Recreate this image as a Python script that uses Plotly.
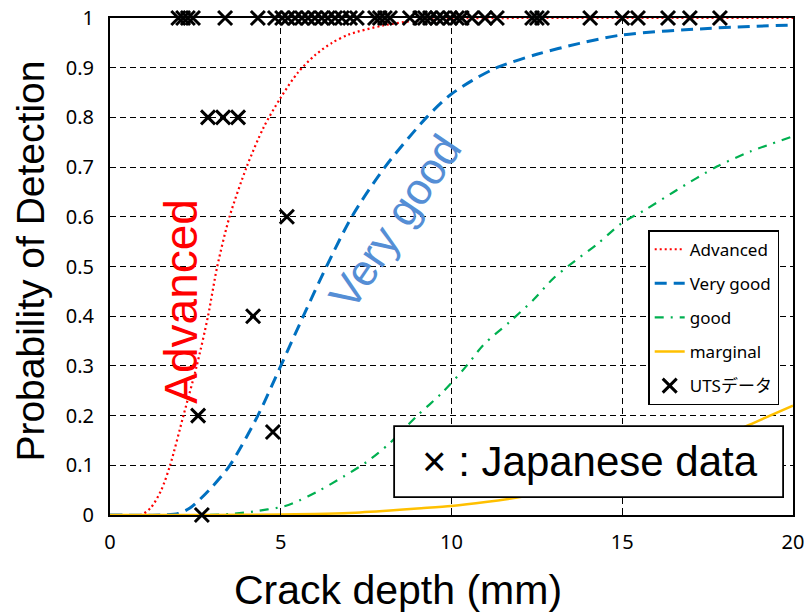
import plotly.graph_objects as go

# ---- data ----
adv_x = [0, 0.9, 1.2, 1.5, 1.76, 2.15, 2.54, 2.87, 3.14, 3.5, 4.0, 4.5, 5.0, 5.5, 6.0, 6.5, 7.0, 8.0, 9.0, 10.0, 12.0, 20.0]
adv_y = [0, 0, 0.015, 0.05, 0.1, 0.2, 0.3, 0.4, 0.5, 0.6, 0.7, 0.78, 0.84, 0.89, 0.925, 0.95, 0.967, 0.985, 0.995, 0.999, 1.0, 1.0]

vg_x = [0, 1.5, 2.0, 2.34, 2.9, 3.51, 4.33, 5.0, 5.66, 6.34, 7.08, 8.05, 9.27, 9.96, 10.6, 11.32, 12.5, 13.75, 15.0, 17.5, 20.0]
vg_y = [0, 0, 0.003, 0.014, 0.05, 0.1, 0.2, 0.3, 0.4, 0.5, 0.6, 0.7, 0.8, 0.845, 0.874, 0.9, 0.927, 0.949, 0.966, 0.979, 0.986]

good_x = [0, 2.5, 3.5, 4.2, 5.07, 5.37, 6.15, 6.83, 7.52, 8.2, 9.0, 9.71, 10.44, 10.93, 11.71, 12.4, 12.98, 13.42, 14.3, 14.98, 15.67, 16.6, 17.77, 18.74, 20.0]
good_y = [0, 0, 0.002, 0.007, 0.017, 0.024, 0.05, 0.077, 0.107, 0.145, 0.2, 0.245, 0.3, 0.342, 0.389, 0.433, 0.476, 0.501, 0.547, 0.587, 0.614, 0.654, 0.701, 0.731, 0.762]

marg_x = [0, 3, 5, 6, 7, 8.2, 9, 10, 11, 12.1, 13, 14, 15, 16, 17, 18, 19, 20]
marg_y = [0, 0, 0.001, 0.002, 0.004, 0.009, 0.013, 0.018, 0.026, 0.037, 0.048, 0.065, 0.085, 0.108, 0.133, 0.16, 0.19, 0.22]

uts_top_x = [2.0, 2.14, 2.28, 2.43, 3.37, 4.33, 4.83, 5.04, 5.21, 5.42, 5.62, 5.8, 6.0, 6.2, 6.38, 6.59,
             6.79, 7.03, 7.23, 7.76, 7.9, 8.05, 8.2, 8.78, 9.08, 9.22, 9.37, 9.58, 9.75, 9.96, 10.16,
             10.3, 10.6, 10.98, 11.33, 12.36, 12.5, 12.65, 14.06, 15.0, 15.46, 16.34, 16.98, 17.86]
uts_other_x = [2.87, 3.31, 3.75, 5.18, 4.19, 2.58, 4.77, 2.69]
uts_other_y = [0.8, 0.8, 0.8, 0.6, 0.4, 0.2, 0.167, 0.0]
uts_x = uts_top_x + uts_other_x
uts_y = [1.0] * len(uts_top_x) + uts_other_y

x_ticks = [0, 5, 10, 15, 20]
y_ticks = [0, 0.1, 0.2, 0.3, 0.4, 0.5, 0.6, 0.7, 0.8, 0.9, 1]

LEG_FONT = "Noto Sans, Noto Sans CJK JP"
ARIAL = "Liberation Sans, Arial"

fig = go.Figure()
fig.add_trace(go.Scatter(x=adv_x, y=adv_y, mode="lines", name="Advanced", legendgroup="a",
                         line=dict(color="#FF0000", width=2.2, dash="2px,3px", shape="spline", smoothing=0.8)))
fig.add_trace(go.Scatter(x=vg_x, y=vg_y, mode="lines", name="Very good", legendgroup="b",
                         line=dict(color="#0070C0", width=3, dash="12px,7px", shape="spline", smoothing=0.8)))
fig.add_trace(go.Scatter(x=good_x, y=good_y, mode="lines", name="good", legendgroup="c",
                         line=dict(color="#00B050", width=2.2, dash="9px,7px,2px,7px", shape="spline", smoothing=0.8)))
fig.add_trace(go.Scatter(x=marg_x, y=marg_y, mode="lines", name="marginal", legendgroup="d",
                         line=dict(color="#FFC000", width=2.5, shape="spline", smoothing=0.8)))
fig.add_trace(go.Scatter(x=uts_x, y=uts_y, mode="markers", name="UTSデータ", legendgroup="e",
                         cliponaxis=False,
                         marker=dict(symbol="x-thin", size=14, color="black",
                                     line=dict(color="black", width=3))))

axis_common = dict(showline=True, linecolor="black", linewidth=2, mirror=True,
                   showgrid=True, gridcolor="black", gridwidth=1.3, griddash="6px,4px",
                   zeroline=False, ticks="inside", ticklen=5, tickcolor="black", automargin=False,
                   ticklabeloverflow="allow",
                   tickfont=dict(family="Noto Sans", size=20, color="black"))

fig.update_xaxes(range=[0, 20], tickvals=x_ticks, ticklabelstandoff=8, **axis_common)
fig.update_yaxes(range=[0, 1], tickvals=y_ticks, ticklabelstandoff=10, **axis_common)

fig.update_layout(
    width=804, height=613,
    margin=dict(l=110, r=11, t=18, b=98, autoexpand=False),
    paper_bgcolor="white", plot_bgcolor="white",
    showlegend=True,
    legend=dict(x=0.788, y=0.573, xanchor="left", yanchor="top",
                bgcolor="white", bordercolor="black", borderwidth=1.5,
                font=dict(family=LEG_FONT, size=17, color="black"),
                tracegroupgap=9, itemwidth=30, entrywidth=105, entrywidthmode="pixels"),
    annotations=[
        dict(text="Probability of Detection", xref="paper", yref="paper", x=-0.117, y=0.51,
             xanchor="center", yanchor="middle",
             textangle=-90, showarrow=False, font=dict(family=ARIAL, size=39, color="black")),
        dict(text="Crack depth (mm)", xref="paper", yref="paper", x=0.422, y=-0.151,
             xanchor="center", yanchor="middle",
             showarrow=False, font=dict(family=ARIAL, size=41, color="black")),
        dict(text="Advanced", x=2.09, y=0.43, textangle=-90, showarrow=False,
             font=dict(family=ARIAL, size=46, color="#FF0000")),
        dict(text="Very good", x=8.35, y=0.59, textangle=-56, showarrow=False,
             font=dict(family=ARIAL, size=44, color="#558ED5")),
        dict(text="× : Japanese data", x=14.05, y=0.107, showarrow=False,
             font=dict(family=ARIAL, size=42, color="black")),
    ],
    shapes=[
        dict(type="rect", xref="x", yref="y", x0=8.32, x1=19.71, y0=0.036, y1=0.179,
             line=dict(color="black", width=1.8), fillcolor="white", layer="above"),
    ],
)

fig.write_html("out.html", config={"displayModeBar": False},
               post_script="document.body.style.margin='0';document.body.style.overflow='hidden';")
